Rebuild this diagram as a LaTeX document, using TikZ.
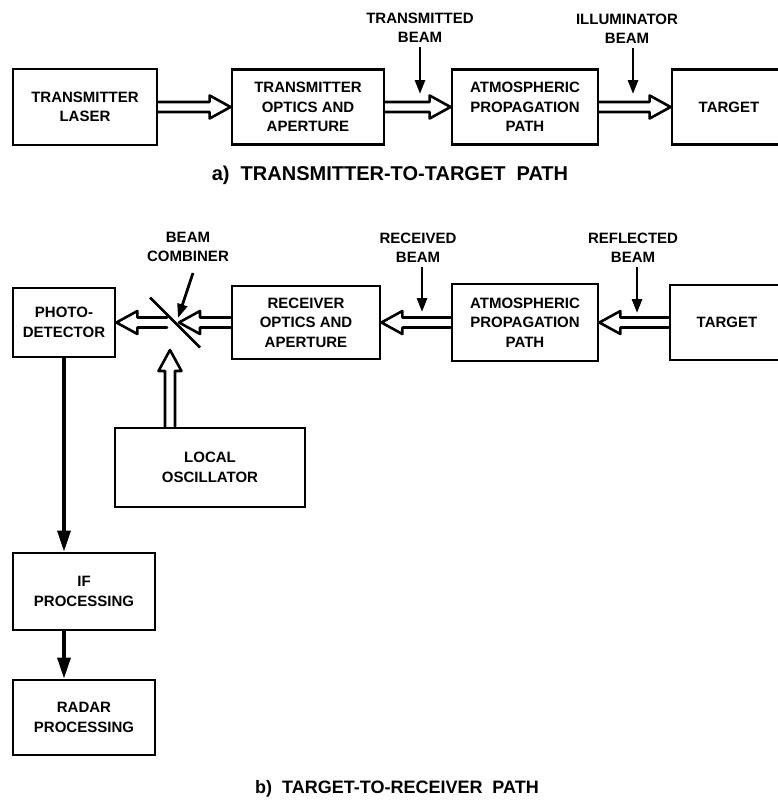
\documentclass[tikz,border=0pt]{standalone}
\usepackage{fontspec}
\setmainfont{Liberation Sans}
\usetikzlibrary{calc,arrows.meta}
\newcommand\boxfont{\fontsize{15}{19.5}\selectfont\bfseries}
\newcommand\capfontA{\fontsize{20}{24}\selectfont\bfseries}
\newcommand\capfontB{\fontsize{18}{22}\selectfont\bfseries}
\newcommand\hollowarr[2]{%
  \path ($(#2)!21pt!(#1)$) coordinate (hh);
  \draw[hollowline] ($(#1)!5pt!90:(#2)$) -- ($(hh)!5pt!-90:(#1)$) -- ($(hh)!11.5pt!-90:(#1)$) -- (#2)
    -- ($(hh)!11.5pt!90:(#1)$) -- ($(hh)!5pt!90:(#1)$) -- ($(#1)!5pt!-90:(#2)$);
}
\begin{document}
\begin{tikzpicture}[x=1pt,y=-1pt,
  box/.style={draw,line width=2.8pt,rectangle,inner sep=0pt,align=center,font=\boxfont},
  lbl/.style={inner sep=0pt,align=center,font=\boxfont},
  hollowline/.style={line width=2.6pt,line join=round,line cap=round},
  beamarr/.style={line width=2.8pt,-{Triangle[length=14pt,width=10pt]}},
  solidarr/.style={line width=3.2pt,-{Triangle[length=21pt,width=13pt]}}]
\useasboundingbox (0,0) rectangle (777,803);

% ---- a) transmitter-to-target path
\node[box,minimum width=144pt,minimum height=76pt] (laser) at (85,107) {TRANSMITTER\\LASER};
\node[box,minimum width=152pt,minimum height=75pt] (optics) at (308,107) {TRANSMITTER\\OPTICS AND\\APERTURE};
\node[box,minimum width=146pt,minimum height=75pt] (atmos) at (525,107) {ATMOSPHERIC\\PROPAGATION\\PATH};
\node[box,minimum width=114pt,minimum height=75pt] (target) at (729,107) {TARGET};

\hollowarr{laser.east}{optics.west}
\hollowarr{optics.east}{atmos.west}
\hollowarr{atmos.east}{target.west}

\node[lbl] (tbeam) at (420,28) {TRANSMITTED\\BEAM};
\coordinate (tbEnd) at (420,94);
\draw[beamarr] ([yshift=-4pt]tbeam.south) -- (tbEnd);
\node[lbl] (ibeam) at (627,29) {ILLUMINATOR\\BEAM};
\coordinate (ibEnd) at (633,94);
\draw[beamarr] ([yshift=-4pt]ibeam.south -| ibEnd) -- (ibEnd);

\node[font=\capfontA,inner sep=0pt] (capA) at (390,175) {a)\ \ TRANSMITTER-TO-TARGET\ \ PATH};

% ---- b) target-to-receiver path
\node[box,minimum width=102pt,minimum height=69pt] (pd) at (64,322.5) {PHOTO-\\DETECTOR};
\node[box,minimum width=148pt,minimum height=73pt] (rx) at (306,322.5) {RECEIVER\\OPTICS AND\\APERTURE};
\node[box,minimum width=146pt,minimum height=77pt] (atmos2) at (525,322.5) {ATMOSPHERIC\\PROPAGATION\\PATH};
\node[box,minimum width=114pt,minimum height=75pt] (target2) at (727,322.5) {TARGET};
\node[box,minimum width=190pt,minimum height=79pt] (lo) at (210,467.5) {LOCAL\\OSCILLATOR};
\node[box,minimum width=142pt,minimum height=77pt] (ifp) at (84,591.5) {IF\\PROCESSING};
\node[box,minimum width=142pt,minimum height=75pt] (radar) at (84,717.5) {RADAR\\PROCESSING};

% beam combiner
\coordinate (bc) at (175,322.5);
\coordinate (bcR) at (179,322.5);
\coordinate (bcL) at (167,322.5);
\coordinate (bcB) at (170,350);
\draw[line width=2.6pt] ($(bc)+(-25,-25)$) -- ($(bc)+(25,25)$);

\hollowarr{target2.west}{atmos2.east}
\hollowarr{atmos2.west}{rx.east}
\hollowarr{rx.west}{bcR}
\hollowarr{bcL}{pd.east}
\hollowarr{bcB |- lo.north}{bcB}

\node[lbl] (bcomb) at (188,247) {BEAM\\COMBINER};
\coordinate (bcTail) at (193,273);
\coordinate (bcHead) at (178,318);
\draw[beamarr] (bcTail) -- (bcHead);

\node[lbl] (rbeam) at (418,248) {RECEIVED\\BEAM};
\coordinate (rbEnd) at (422,312);
\draw[beamarr] ([yshift=-4pt]rbeam.south -| rbEnd) -- (rbEnd);
\node[lbl] (fbeam) at (633,248) {REFLECTED\\BEAM};
\coordinate (fbEnd) at (637,313);
\draw[beamarr] ([yshift=-4pt]fbeam.south -| fbEnd) -- (fbEnd);

\draw[solidarr] (pd.south) -- (pd.south |- ifp.north);
\draw[solidarr] (pd.south |- ifp.south) -- (pd.south |- radar.north);

\node[font=\capfontB,inner sep=0pt] (capB) at (397,789) {b)\ \ TARGET-TO-RECEIVER\ \ PATH};
\end{tikzpicture}
\end{document}
